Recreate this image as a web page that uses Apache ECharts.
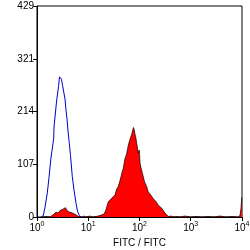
<!DOCTYPE html>
<html><head><meta charset="utf-8">
<script src="https://cdn.jsdelivr.net/npm/echarts@6/dist/echarts.min.js"></script>
<style>html,body{margin:0;padding:0;background:#fff}#c{width:250px;height:250px}</style>
</head><body><div id="c"></div>
<script>
// Isotype control (blue outline histogram)
const blueFitc = [1.197,1.327,1.433,1.589,1.714,1.851,1.963,2.118,2.147,2.274,2.424,2.535,2.628,2.748,2.875,3.006,3.147,3.289,3.365,3.518,3.681,3.847,4.027,4.266,4.506,4.885,5.27,5.77,6.17,6.69,7.22];
const blueCount = [0,3,20,49,80,116,135,160,183,183,238,242,265,285,283,280,268,268,265,240,217,200,175,150,125,82,55,28,12,3,0];
// Stained sample (red filled histogram)
const redFitc = [1.252,1.498,1.794,1.962,2.146,2.348,2.569,2.810,3.074,3.216,3.440,3.598,3.849,4.026,4.306,4.607,4.928,5.272,5.640,6.033,6.454,6.902,7.551,8.262,9.041,9.888,10.82,11.84,12.95,14.17,15.50,16.96,18.55,20.30,21.71,23.22,24.61,26.57,28.68,30.82,33.27,35.92,38.58,41.09,43.55,45.96,48.30,50.29,52.13,54.52,56.27,58.33,60.46,62.95,65.26,68.25,71.41,73.69,76.03,79.17,81.70,84.32,88.19,92.24,94.76,99.11,102.3,107.0,110.4,114.4,118.6,123.5,128.0,133.9,138.2,143.3,148.5,154.6,160.3,167.7,173.0,183.4,191.8,200.6,214.6,232.7,251.2,271.3,294.0,314.6,339.5,364.8,411.7,471.2,539.2,617.0,772.4,966.9,1266,1658,2171,2843,3722,4874,6381,8356,9142,9561,9900,10000];
const redCount = [0,1,0,3,6,10,8,13,11,16,12,19,13,15,10,12,8,9,5,4,1,2,0,2,0,1,2,0,2,1,3,3,5,6,12,22,31,34,38,42,45,57,62,72,82,92,99,110,119,124,129,138,146,150,158,160,170,166,182,177,168,163,150,153,130,136,110,100,96,88,82,74,69,66,62,56,51,54,48,44,41,38,40,35,30,24,22,18,14,8,4,1,2,0,1,0,2,0,1,0,1,0,2,0,1,0,3,18,40,40];
const yTicks = [0,107,214,321,429];
const xMin = 1, xMax = 10000;
const xTitle = 'FITC / FITC';

const chart = echarts.init(document.getElementById('c'), null, {renderer:'canvas'});
const ff = '"Liberation Sans", Arial, sans-serif';
chart.setOption({
  animation:false,
  grid:{left:37,right:8,top:6,bottom:33,show:true,borderColor:'#000',borderWidth:1,containLabel:false,outerBoundsMode:'none'},
  xAxis:{
    type:'log', logBase:10, min:xMin, max:xMax,
    name:xTitle, nameLocation:'middle', nameGap:21,
    nameTextStyle:{color:'#000',fontSize:10,fontFamily:ff},
    axisLine:{show:true,lineStyle:{color:'#000',width:1}},
    axisTick:{show:true,inside:false,length:4,lineStyle:{color:'#000'}},
    minorTick:{show:false}, splitLine:{show:false},
    axisLabel:{
      margin:4, color:'#000', fontFamily:ff, showMinLabel:true, showMaxLabel:true,
      formatter:function(v){const e=Math.round(Math.log10(v));return '{a|10}{b|'+e+'}';},
      rich:{a:{fontSize:10,fontFamily:ff,color:'#000',lineHeight:12,verticalAlign:'bottom'},
            b:{fontSize:7,fontFamily:ff,color:'#000',verticalAlign:'top',lineHeight:8}}
    }
  },
  yAxis:{
    type:'value', min:0, max:429,
    axisLine:{show:true,lineStyle:{color:'#000',width:1}},
    axisTick:{show:true,inside:false,length:4,lineStyle:{color:'#000'},customValues:yTicks},
    splitLine:{show:false},
    axisLabel:{margin:3,color:'#000',fontSize:10,fontFamily:ff,customValues:yTicks}
  },
  series:[
    {type:'line', data:redFitc.map((x,i)=>[x,redCount[i]]), symbol:'none', smooth:false,
     lineStyle:{color:'#000',width:0.7}, areaStyle:{color:'#ff0000',opacity:1}, z:2},
    {type:'line', data:blueFitc.map((x,i)=>[x,blueCount[i]]), symbol:'none', smooth:false,
     lineStyle:{color:'#0000c8',width:1}, z:3}
  ]
});
</script></body></html>
